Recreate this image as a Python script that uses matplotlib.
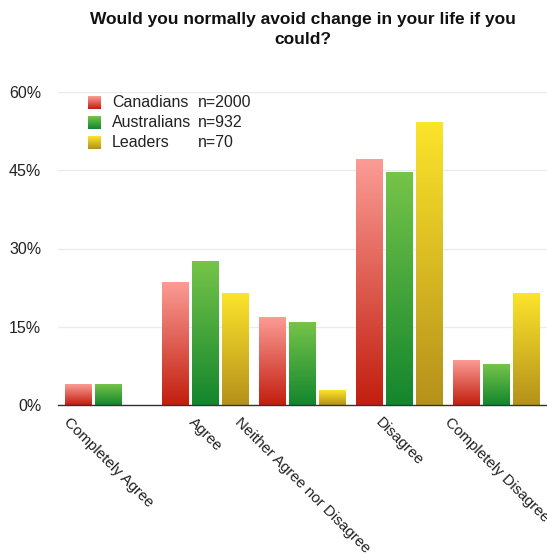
import numpy as np
import matplotlib
matplotlib.use('Agg')
from matplotlib import pyplot as plt
from matplotlib.colors import LinearSegmentedColormap

plt.rcParams['font.family'] = ['Liberation Sans', 'DejaVu Sans']

categories = ['Completely Agree', 'Agree', 'Neither Agree nor Disagree',
              'Disagree', 'Completely Disagree']
groups = ['Canadians', 'Australians', 'Leaders']
sizes = ['n=2000', 'n=932', 'n=70']
canadians = [4.0, 23.4, 16.8, 47.0, 8.6]
australians = [4.0, 27.6, 15.8, 44.5, 7.8]
leaders = [0.0, 21.3, 2.8, 54.2, 21.3]
yticks = [0, 15, 30, 45, 60]

# (bottom colour, top colour) for each series
shades = [('#c21e0e', '#fb9c95'),
          ('#13862d', '#76c449'),
          ('#b5911b', '#fce42b')]


def gradient_cmap(bottom, top):
    return LinearSegmentedColormap.from_list('g', [bottom, top])


def fill_bar(ax, x0, x1, h, cmap):
    grad = np.linspace(0, 1, 256).reshape(-1, 1)
    ax.imshow(grad, extent=[x0, x1, 0, h], origin='lower', aspect='auto',
              cmap=cmap, zorder=2, interpolation='bilinear')


fig = plt.figure(figsize=(5.47, 5.55), dpi=100)
ax = fig.add_axes([58 / 547, 150 / 555, 489 / 547, 313 / 555])

x = np.arange(len(categories))
pitch = 0.308
width = 0.277
series = [canadians, australians, leaders]
for i, vals in enumerate(series):
    cmap = gradient_cmap(*shades[i])
    pos = x + (i - 1) * pitch
    ax.bar(pos, vals, width, color='none', edgecolor='none', zorder=1)
    for p, v in zip(pos, vals):
        if v <= 0:
            continue
        fill_bar(ax, p - width / 2, p + width / 2, v, cmap)

ax.set_xlim(-0.52, 4.52)
ax.set_ylim(0, 60)
ax.set_yticks(yticks)
ax.set_yticklabels([f'{t}%' for t in yticks], fontsize=11.5, color='#222222')
ax.yaxis.grid(True, color='#ebebeb', linewidth=1)
ax.set_axisbelow(True)
ax.tick_params(axis='y', length=0, pad=12)
ax.set_xticks(x)
ax.set_xticklabels(categories, rotation=-45, ha='center', va='top',
                   fontsize=11, color='#222222')
ax.tick_params(axis='x', length=0, pad=7)
for s in ['top', 'right', 'left']:
    ax.spines[s].set_visible(False)
ax.spines['bottom'].set_color('#333333')
ax.spines['bottom'].set_linewidth(1)

# legend drawn by hand so the n= column lines up
for i, (g, n) in enumerate(zip(groups, sizes)):
    yc = 1 - (10.7 + 19.8 * i) / 313
    sq = fig.add_axes([88 / 547, (555 - (102.7 + 19.8 * i) - 6.5) / 555,
                       13 / 547, 13 / 555])
    sq.imshow(np.linspace(0, 1, 64).reshape(-1, 1), origin='lower',
              aspect='auto', cmap=gradient_cmap(*shades[i]))
    sq.set_axis_off()
    ax.text((112 - 58) / 489, yc, g, transform=ax.transAxes, fontsize=11.5,
            va='center', ha='left', color='#222222')
    ax.text((198 - 58) / 489, yc, n, transform=ax.transAxes, fontsize=11.5,
            va='center', ha='left', color='#222222')

fig.text(302.5 / 547, 1 - 12 / 555,
         'Would you normally avoid change in your life if you\ncould?',
         ha='center', va='top', fontsize=12.5, fontweight='bold',
         linespacing=1.4, color='#111111')

fig.savefig('out.png', dpi=100)
